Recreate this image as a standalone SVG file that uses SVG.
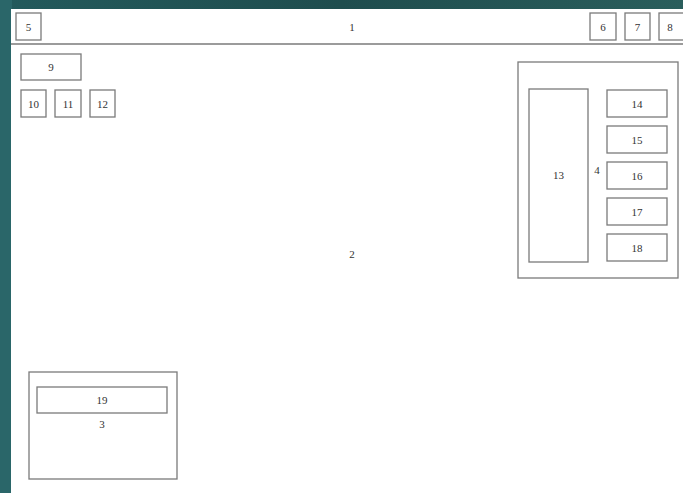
<svg xmlns="http://www.w3.org/2000/svg" width="683" height="493" viewBox="0 0 683 493">
<defs>
<linearGradient id="bg" x1="0" y1="0" x2="1" y2="0">
<stop offset="0" stop-color="#235a5c"/>
<stop offset="0.5" stop-color="#1f4d4e"/>
<stop offset="1" stop-color="#2a5e5c"/>
</linearGradient>
</defs>
<style>
.b{fill:#fff;stroke:#7a7a7a;stroke-width:1.3}
.t{font-family:"Liberation Serif",serif;font-size:11px;fill:#333;text-anchor:middle;dominant-baseline:central}
</style>
<rect x="0" y="0" width="683" height="493" fill="url(#bg)"/>
<rect x="0" y="0" width="12" height="493" fill="#2a6669"/>
<rect x="11" y="9" width="672" height="484" fill="#fff"/>
<g id="n1">
<line x1="11" y1="44" x2="683" y2="44" stroke="#7a7a7a" stroke-width="1.5"/>
<text class="t" x="352" y="27">1</text>
</g>
<g id="n2"><text class="t" x="352" y="254">2</text></g>
<g id="n5"><rect class="b" x="16" y="13" width="25" height="27"/><text class="t" x="28.5" y="26.5">5</text></g>
<g id="n6"><rect class="b" x="590" y="13" width="26" height="27"/><text class="t" x="603" y="26.5">6</text></g>
<g id="n7"><rect class="b" x="625" y="13" width="25" height="27"/><text class="t" x="637.5" y="26.5">7</text></g>
<g id="n8"><rect class="b" x="659" y="13" width="26" height="27"/><text class="t" x="670" y="26.5">8</text></g>
<g id="n9"><rect class="b" x="21" y="54" width="60" height="26"/><text class="t" x="51" y="67">9</text></g>
<g id="n10"><rect class="b" x="21" y="90" width="25" height="27"/><text class="t" x="33.5" y="103.5">10</text></g>
<g id="n11"><rect class="b" x="55" y="90" width="26" height="27"/><text class="t" x="68" y="103.5">11</text></g>
<g id="n12"><rect class="b" x="90" y="90" width="25" height="27"/><text class="t" x="102.5" y="103.5">12</text></g>
<g id="n4">
<rect class="b" x="518" y="62" width="160" height="216"/>
<text class="t" x="597" y="170">4</text>
</g>
<g id="n13"><rect class="b" x="529" y="89" width="59" height="173"/><text class="t" x="558.5" y="175">13</text></g>
<g id="n14"><rect class="b" x="607" y="90" width="60" height="27"/><text class="t" x="637" y="103.5">14</text></g>
<g id="n15"><rect class="b" x="607" y="126" width="60" height="27"/><text class="t" x="637" y="139.5">15</text></g>
<g id="n16"><rect class="b" x="607" y="162" width="60" height="27"/><text class="t" x="637" y="175.5">16</text></g>
<g id="n17"><rect class="b" x="607" y="198" width="60" height="27"/><text class="t" x="637" y="211.5">17</text></g>
<g id="n18"><rect class="b" x="607" y="234" width="60" height="27"/><text class="t" x="637" y="247.5">18</text></g>
<g id="n3">
<rect class="b" x="29" y="372" width="148" height="107"/>
<text class="t" x="102" y="424">3</text>
</g>
<g id="n19"><rect class="b" x="37" y="387" width="130" height="26"/><text class="t" x="102" y="400">19</text></g>
<g id="connectors"></g>
</svg>
